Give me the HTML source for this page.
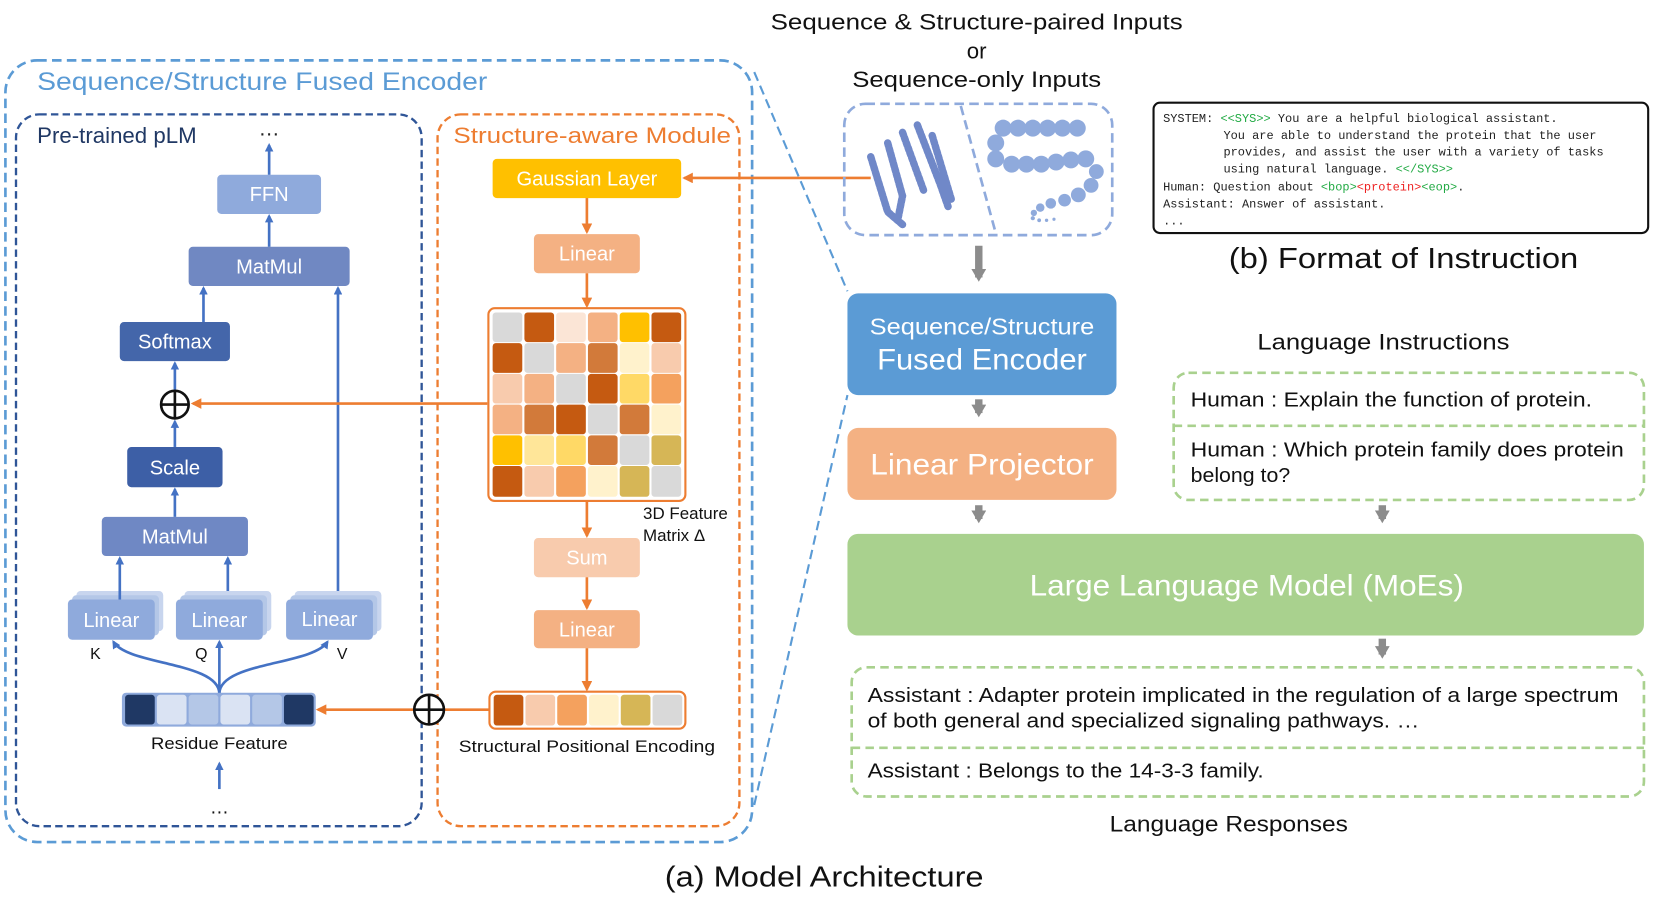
<!DOCTYPE html>
<html><head><meta charset="utf-8"><style>
html,body{margin:0;padding:0;background:#fff;}
svg{display:block;}
text{font-family:"Liberation Sans",sans-serif;}
.mono{font-family:"Liberation Mono",monospace;font-size:11.3px;fill:#222;}
</style></head><body>
<svg width="1661" height="913" viewBox="0 0 1568 862" xmlns="http://www.w3.org/2000/svg">
<defs>
<marker id="ab" markerWidth="8" markerHeight="8" refX="6" refY="4" orient="auto" markerUnits="userSpaceOnUse"><path d="M0,0 L8,4 L0,8 Z" fill="#4472c4"/></marker>
<marker id="ao" markerWidth="10" markerHeight="10" refX="8" refY="5" orient="auto" markerUnits="userSpaceOnUse"><path d="M0,0 L10,5 L0,10 Z" fill="#ed7d31"/></marker>
<marker id="ag" markerWidth="16" markerHeight="14" refX="8" refY="7" orient="auto" markerUnits="userSpaceOnUse"><path d="M0,0 L12,7 L0,14 Z" fill="#8c8c8c"/></marker>
</defs>

<rect x="5" y="57" width="705" height="738" rx="30" fill="none" stroke="#5b9bd5" stroke-width="2.5" stroke-dasharray="9,5"/>
<text x="35" y="85" font-size="24" fill="#5b9bd5" textLength="425" lengthAdjust="spacingAndGlyphs">Sequence/Structure Fused Encoder</text>
<line x1="712" y1="68" x2="800" y2="275" stroke="#5b9bd5" stroke-width="2" stroke-dasharray="9,5"/>
<line x1="712" y1="760" x2="800" y2="373" stroke="#5b9bd5" stroke-width="2" stroke-dasharray="9,5"/>

<rect x="15" y="108" width="383" height="672" rx="22" fill="none" stroke="#2f5597" stroke-width="2.2" stroke-dasharray="7,4"/>
<text x="35" y="135" font-size="21" fill="#203864">Pre-trained pLM</text>
<text x="244" y="128" font-size="20" fill="#222">…</text>
<rect x="413" y="108" width="285" height="672" rx="22" fill="none" stroke="#ed7d31" stroke-width="2.2" stroke-dasharray="7,4"/>
<text x="428" y="135" font-size="21" fill="#ed7d31" textLength="262" lengthAdjust="spacingAndGlyphs">Structure-aware Module</text>

<g font-size="19" fill="#fff" text-anchor="middle">
<rect x="205" y="165" width="98" height="37" rx="4" fill="#8faadc"/><text x="254" y="190">FFN</text>
<rect x="178" y="233" width="152" height="37" rx="4" fill="#7088c2"/><text x="254" y="258">MatMul</text>
<rect x="113" y="304" width="104" height="37" rx="4" fill="#4466aa"/><text x="165" y="329">Softmax</text>
<rect x="120" y="422" width="90" height="38" rx="4" fill="#3d5fa6"/><text x="165" y="448">Scale</text>
<rect x="96" y="488" width="138" height="37" rx="4" fill="#6f88c4"/><text x="165" y="513">MatMul</text>
<rect x="72" y="558" width="82" height="38" rx="4" fill="#c8d5ee"/><rect x="68" y="562" width="82" height="38" rx="4" fill="#b4c7e7"/>
<rect x="64" y="566" width="82" height="38" rx="4" fill="#8faadc"/><text x="105" y="592">Linear</text>
<rect x="174" y="558" width="82" height="38" rx="4" fill="#c8d5ee"/><rect x="170" y="562" width="82" height="38" rx="4" fill="#b4c7e7"/>
<rect x="166" y="566" width="82" height="38" rx="4" fill="#8faadc"/><text x="207" y="592">Linear</text>
<rect x="278" y="558" width="82" height="38" rx="4" fill="#c8d5ee"/><rect x="274" y="562" width="82" height="38" rx="4" fill="#b4c7e7"/>
<rect x="270" y="566" width="82" height="38" rx="4" fill="#8faadc"/><text x="311" y="591">Linear</text>
</g>
<g font-size="15" fill="#111" text-anchor="middle"><text x="90" y="622">K</text><text x="190" y="622">Q</text><text x="323" y="622">V</text></g>

<g stroke="#4472c4" stroke-width="2.5" fill="none" marker-end="url(#ab)">
<line x1="254" y1="165" x2="254" y2="137"/>
<line x1="254" y1="233" x2="254" y2="204"/>
<line x1="192" y1="304" x2="192" y2="272"/>
<line x1="319" y1="558" x2="319" y2="272"/>
<line x1="165" y1="368" x2="165" y2="343"/>
<line x1="165" y1="422" x2="165" y2="398"/>
<line x1="165" y1="488" x2="165" y2="462"/>
<line x1="113" y1="566" x2="113" y2="527"/>
<line x1="215" y1="558" x2="215" y2="527"/>
<path d="M207,655 C207,625 120,628 107,606"/>
<line x1="207" y1="655" x2="207" y2="606"/>
<path d="M207,655 C207,625 295,628 309,606"/>
<line x1="207" y1="745" x2="207" y2="721"/>
</g>
<circle cx="165" cy="382" r="13" fill="#fff" stroke="#111" stroke-width="2.5"/>
<line x1="152" y1="382" x2="178" y2="382" stroke="#111" stroke-width="2.5"/><line x1="165" y1="369" x2="165" y2="395" stroke="#111" stroke-width="2.5"/>

<rect x="115" y="654" width="183" height="32" rx="4" fill="#8faadc"/>
<rect x="118" y="656" width="28" height="28" rx="3" fill="#1f3864"/>
<rect x="148" y="656" width="28" height="28" rx="3" fill="#dae3f3"/>
<rect x="178" y="656" width="28" height="28" rx="3" fill="#b4c7e7"/>
<rect x="208" y="656" width="28" height="28" rx="3" fill="#dae3f3"/>
<rect x="238" y="656" width="28" height="28" rx="3" fill="#b4c7e7"/>
<rect x="268" y="656" width="28" height="28" rx="3" fill="#1f3864"/>
<text x="207" y="707" font-size="16" fill="#111" text-anchor="middle" textLength="129" lengthAdjust="spacingAndGlyphs">Residue Feature</text>
<text x="207" y="768" font-size="18" fill="#111" text-anchor="middle">…</text>

<rect x="465" y="150" width="178" height="37" rx="4" fill="#ffc000"/><text x="554" y="175" font-size="19" fill="#fff" text-anchor="middle">Gaussian Layer</text>
<rect x="504" y="221" width="100" height="37" rx="4" fill="#f4b183"/><text x="554" y="246" font-size="19" fill="#fff" text-anchor="middle">Linear</text>
<rect x="504" y="508" width="100" height="37" rx="4" fill="#f8cbad"/><text x="554" y="533" font-size="19" fill="#fff" text-anchor="middle">Sum</text>
<rect x="504" y="576" width="100" height="36" rx="4" fill="#f4b183"/><text x="554" y="601" font-size="19" fill="#fff" text-anchor="middle">Linear</text>
<rect x="461" y="291" width="186" height="182" rx="6" fill="#fff" stroke="#ed7d31" stroke-width="2"/>
<text x="607" y="490" font-size="16" fill="#111">3D Feature</text>
<text x="607" y="511" font-size="16" fill="#111">Matrix Δ</text>
<g stroke="#ed7d31" stroke-width="2.5" fill="none" marker-end="url(#ao)">
<line x1="554" y1="187" x2="554" y2="219"/>
<line x1="554" y1="258" x2="554" y2="289"/>
<line x1="554" y1="473" x2="554" y2="506"/>
<line x1="554" y1="545" x2="554" y2="574"/>
<line x1="554" y1="612" x2="554" y2="651"/>
<line x1="460" y1="381" x2="182" y2="381"/>
<line x1="462" y1="670" x2="300" y2="670"/>
<line x1="822" y1="168" x2="646" y2="168"/>
</g>
<rect x="462" y="653" width="185" height="35" rx="6" fill="#fff" stroke="#ed7d31" stroke-width="2"/>
<rect x="466" y="656" width="28" height="29" rx="3" fill="#c55a11"/>
<rect x="496" y="656" width="28" height="29" rx="3" fill="#f8cbad"/>
<rect x="526" y="656" width="28" height="29" rx="3" fill="#f4a15e"/>
<rect x="556" y="656" width="28" height="29" rx="3" fill="#fff2cc"/>
<rect x="586" y="656" width="28" height="29" rx="3" fill="#d6b656"/>
<rect x="616" y="656" width="28" height="29" rx="3" fill="#d9d9d9"/>
<circle cx="405" cy="670" r="14" fill="#fff" stroke="#111" stroke-width="2.5"/>
<line x1="391" y1="670" x2="419" y2="670" stroke="#111" stroke-width="2.5"/><line x1="405" y1="656" x2="405" y2="684" stroke="#111" stroke-width="2.5"/>
<text x="554" y="710" font-size="16" fill="#111" text-anchor="middle" textLength="242" lengthAdjust="spacingAndGlyphs">Structural Positional Encoding</text>

<g font-size="21" fill="#111" text-anchor="middle">
<text x="922" y="28" textLength="389" lengthAdjust="spacingAndGlyphs">Sequence &amp; Structure-paired Inputs</text>
<text x="922" y="55">or</text>
<text x="922" y="82" textLength="235" lengthAdjust="spacingAndGlyphs">Sequence-only Inputs</text>
</g>
<rect x="797" y="98" width="253" height="124" rx="20" fill="none" stroke="#8faadc" stroke-width="2.5" stroke-dasharray="9,5"/>
<line x1="907" y1="100" x2="940" y2="220" stroke="#8faadc" stroke-width="2.5" stroke-dasharray="9,5"/>
<g stroke="#7088c8" stroke-width="7" fill="none" stroke-dasharray="3,2" stroke-linecap="round">
<path d="M822,148 L838,200 L852,212"/>
<path d="M838,135 L852,185 L848,205"/>
<path d="M852,125 L872,180"/>
<path d="M866,118 L888,175 L895,195"/>
<path d="M880,128 L898,188"/>
</g>
<g fill="#8faadc">
<circle cx="947" cy="121" r="8"/><circle cx="961" cy="121" r="8"/><circle cx="975" cy="121" r="8"/><circle cx="989" cy="121" r="8"/><circle cx="1003" cy="121" r="8"/><circle cx="1017" cy="121" r="8"/>
<circle cx="940" cy="135" r="8"/><circle cx="940" cy="150" r="8"/>
<circle cx="955" cy="155" r="8"/><circle cx="969" cy="155" r="8"/><circle cx="983" cy="155" r="8"/><circle cx="997" cy="153" r="8"/><circle cx="1011" cy="151" r="8"/><circle cx="1025" cy="150" r="8"/>
<circle cx="1035" cy="162" r="7"/><circle cx="1030" cy="175" r="7"/><circle cx="1018" cy="184" r="7"/><circle cx="1005" cy="189" r="6"/><circle cx="992" cy="192" r="5"/><circle cx="982" cy="196" r="4"/><circle cx="976" cy="201" r="3"/><circle cx="975" cy="206" r="2"/><circle cx="981" cy="208" r="1.8"/><circle cx="988" cy="208" r="1.6"/><circle cx="995" cy="207" r="1.5"/>
</g>
<g stroke="#8c8c8c" stroke-width="7" marker-end="url(#ag)">
<line x1="924" y1="232" x2="924" y2="262"/>
<line x1="924" y1="377" x2="924" y2="390"/>
<line x1="924" y1="477" x2="924" y2="490"/>
<line x1="1305" y1="477" x2="1305" y2="490"/>
<line x1="1305" y1="603" x2="1305" y2="618"/>
</g>
<rect x="800" y="277" width="254" height="96" rx="10" fill="#5b9bd5"/>
<text x="927" y="316" font-size="22" fill="#fff" text-anchor="middle" textLength="212" lengthAdjust="spacingAndGlyphs">Sequence/Structure</text>
<text x="927" y="349" font-size="28" fill="#fff" text-anchor="middle" textLength="198" lengthAdjust="spacingAndGlyphs">Fused Encoder</text>
<rect x="800" y="404" width="254" height="68" rx="10" fill="#f4b183"/>
<text x="927" y="448" font-size="28" fill="#fff" text-anchor="middle" textLength="211" lengthAdjust="spacingAndGlyphs">Linear Projector</text>
<rect x="800" y="504" width="752" height="96" rx="10" fill="#a9d18e"/>
<text x="1177" y="562" font-size="28" fill="#fff" text-anchor="middle" textLength="410" lengthAdjust="spacingAndGlyphs">Large Language Model (MoEs)</text>

<text x="1306" y="330" font-size="21" fill="#111" text-anchor="middle" textLength="238" lengthAdjust="spacingAndGlyphs">Language Instructions</text>
<rect x="1108" y="352" width="444" height="120" rx="14" fill="none" stroke="#a9d18e" stroke-width="2.5" stroke-dasharray="8,5"/>
<line x1="1108" y1="402" x2="1552" y2="402" stroke="#a9d18e" stroke-width="2.5" stroke-dasharray="8,5"/>
<g font-size="19" fill="#111" lengthAdjust="spacingAndGlyphs">
<text x="1124" y="384" textLength="379" lengthAdjust="spacingAndGlyphs">Human : Explain the function of protein.</text>
<text x="1124" y="431" textLength="409" lengthAdjust="spacingAndGlyphs">Human : Which protein family does protein</text>
<text x="1124" y="455" textLength="94" lengthAdjust="spacingAndGlyphs">belong to?</text>
</g>
<rect x="804" y="630" width="748" height="122" rx="14" fill="none" stroke="#a9d18e" stroke-width="2.5" stroke-dasharray="8,5"/>
<line x1="804" y1="706" x2="1552" y2="706" stroke="#a9d18e" stroke-width="2.5" stroke-dasharray="8,5"/>
<g font-size="19" fill="#111">
<text x="819" y="663" textLength="709" lengthAdjust="spacingAndGlyphs">Assistant : Adapter protein implicated in the regulation of a large spectrum</text>
<text x="819" y="687" textLength="521" lengthAdjust="spacingAndGlyphs">of both general and specialized signaling pathways.    …</text>
<text x="819" y="734" textLength="374" lengthAdjust="spacingAndGlyphs">Assistant : Belongs to the 14-3-3 family.</text>
</g>
<text x="1160" y="785" font-size="21" fill="#111" text-anchor="middle" textLength="225" lengthAdjust="spacingAndGlyphs">Language Responses</text>
<text x="778" y="837" font-size="27" fill="#111" text-anchor="middle" textLength="301" lengthAdjust="spacingAndGlyphs">(a) Model Architecture</text>

<rect x="1089" y="97" width="467" height="123" rx="6" fill="#fff" stroke="#111" stroke-width="2"/>
<text class="mono" x="1098" y="115">SYSTEM: <tspan fill="#22aa44">&lt;&lt;SYS&gt;&gt;</tspan> You are a helpful biological assistant.</text>
<text class="mono" x="1155" y="131">You are able to understand the protein that the user</text>
<text class="mono" x="1155" y="147">provides, and assist the user with a variety of tasks</text>
<text class="mono" x="1155" y="163">using natural language. <tspan fill="#22aa44">&lt;&lt;/SYS&gt;&gt;</tspan></text>
<text class="mono" x="1098" y="180">Human: Question about <tspan fill="#22aa44">&lt;bop&gt;</tspan><tspan fill="#ee2222">&lt;protein&gt;</tspan><tspan fill="#22aa44">&lt;eop&gt;</tspan>.</text>
<text class="mono" x="1098" y="196">Assistant: Answer of assistant.</text>
<text class="mono" x="1098" y="212">...</text>
<text x="1325" y="253" font-size="27" fill="#111" text-anchor="middle" textLength="330" lengthAdjust="spacingAndGlyphs">(b) Format of Instruction</text>

<g>
<rect x="465" y="295" width="28" height="28" rx="3" fill="#d9d9d9"/><rect x="495" y="295" width="28" height="28" rx="3" fill="#c55a11"/><rect x="525" y="295" width="28" height="28" rx="3" fill="#fbe5d6"/><rect x="555" y="295" width="28" height="28" rx="3" fill="#f4b183"/><rect x="585" y="295" width="28" height="28" rx="3" fill="#ffc000"/><rect x="615" y="295" width="28" height="28" rx="3" fill="#c55a11"/>
<rect x="465" y="324" width="28" height="28" rx="3" fill="#c55a11"/><rect x="495" y="324" width="28" height="28" rx="3" fill="#d9d9d9"/><rect x="525" y="324" width="28" height="28" rx="3" fill="#f4b183"/><rect x="555" y="324" width="28" height="28" rx="3" fill="#d27a3a"/><rect x="585" y="324" width="28" height="28" rx="3" fill="#fff2cc"/><rect x="615" y="324" width="28" height="28" rx="3" fill="#f8cbad"/>
<rect x="465" y="353" width="28" height="28" rx="3" fill="#f8cbad"/><rect x="495" y="353" width="28" height="28" rx="3" fill="#f4b183"/><rect x="525" y="353" width="28" height="28" rx="3" fill="#d9d9d9"/><rect x="555" y="353" width="28" height="28" rx="3" fill="#c55a11"/><rect x="585" y="353" width="28" height="28" rx="3" fill="#ffd966"/><rect x="615" y="353" width="28" height="28" rx="3" fill="#f4a15e"/>
<rect x="465" y="382" width="28" height="28" rx="3" fill="#f4b183"/><rect x="495" y="382" width="28" height="28" rx="3" fill="#d27a3a"/><rect x="525" y="382" width="28" height="28" rx="3" fill="#c55a11"/><rect x="555" y="382" width="28" height="28" rx="3" fill="#d9d9d9"/><rect x="585" y="382" width="28" height="28" rx="3" fill="#d27a3a"/><rect x="615" y="382" width="28" height="28" rx="3" fill="#fff2cc"/>
<rect x="465" y="411" width="28" height="28" rx="3" fill="#ffc000"/><rect x="495" y="411" width="28" height="28" rx="3" fill="#ffe699"/><rect x="525" y="411" width="28" height="28" rx="3" fill="#ffd966"/><rect x="555" y="411" width="28" height="28" rx="3" fill="#d27a3a"/><rect x="585" y="411" width="28" height="28" rx="3" fill="#d9d9d9"/><rect x="615" y="411" width="28" height="28" rx="3" fill="#d6b656"/>
<rect x="465" y="440" width="28" height="29" rx="3" fill="#c55a11"/><rect x="495" y="440" width="28" height="29" rx="3" fill="#f8cbad"/><rect x="525" y="440" width="28" height="29" rx="3" fill="#f4a15e"/><rect x="555" y="440" width="28" height="29" rx="3" fill="#fff2cc"/><rect x="585" y="440" width="28" height="29" rx="3" fill="#d6b656"/><rect x="615" y="440" width="28" height="29" rx="3" fill="#d9d9d9"/>
</g>
</svg>
</body></html>
